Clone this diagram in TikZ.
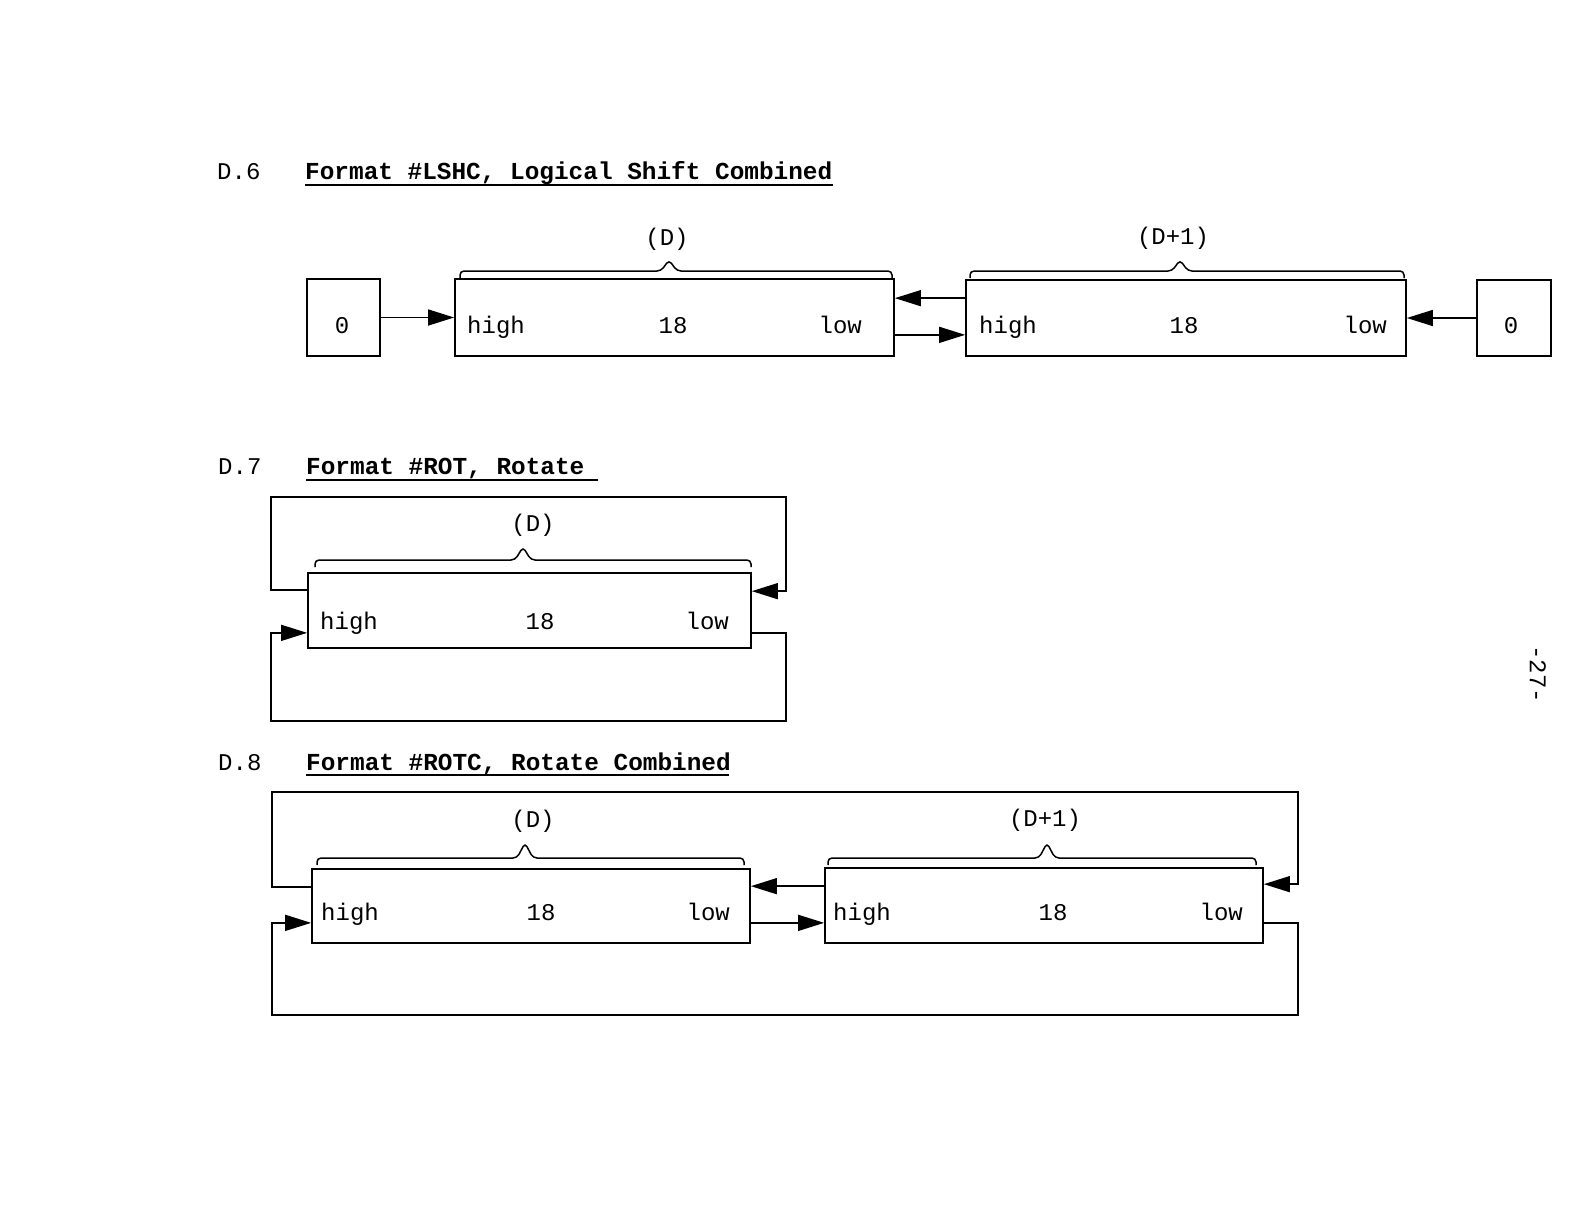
\documentclass[tikz,border=0pt]{standalone}
\usepackage{fontspec}
\setmainfont{Liberation Mono}
\usetikzlibrary{arrows.meta,calc}
\newcommand\regbrace[5]{%
  \draw[brc] (#1,#4+7) -- (#1,#4) -- (#3-8,#4) -- (#3,#5) -- (#3+8,#4) -- (#2,#4) -- (#2,#4+7);}
\begin{document}
\begin{tikzpicture}[x=1pt,y=-1pt,
  regbox/.style={draw, line width=1.7pt, inner sep=0pt},
  conn/.style={line width=1.4pt},
  arr/.style={conn, -{Triangle[length=26pt,width=16pt]}},
  brc/.style={line width=1.5pt, rounded corners=4pt},
  txt/.style={inner sep=0pt, font=\fontsize{24}{28}\selectfont},
  ttl/.style={inner sep=0pt, font=\fontsize{24.4}{29}\selectfont\bfseries},
  uline/.style={line width=1.5pt}]
\useasboundingbox (0,0) rectangle (1584,1224);

% ---------------- D.6 ----------------
\node[txt, anchor=base west] (n6) at (217,179) {D.6};
\node[ttl, anchor=base west] (t6) at (305,179) {Format \#LSHC, Logical Shift Combined};
\draw[uline] (305,185) -- (833,185);

\node[regbox, minimum width=73pt, minimum height=77pt] (z6l) at (343.5,317.5) {};
\node[regbox, minimum width=439pt, minimum height=77pt] (d6a) at (674.5,317.5) {};
\node[regbox, minimum width=440pt, minimum height=76pt] (d6b) at (1186,318) {};
\node[regbox, minimum width=74pt, minimum height=76pt] (z6r) at (1514,318) {};

\node[txt, anchor=base] (z6lt) at (342,333) {0};
\node[txt, anchor=base] (z6rt) at (1511,333) {0};
\node[txt, anchor=base west] (h6a) at (467,333) {high};
\node[txt, anchor=base] (m6a) at (673,333) {18};
\node[txt, anchor=base east] (l6a) at (862,333) {low};
\node[txt, anchor=base west] (h6b) at (979,333) {high};
\node[txt, anchor=base] (m6b) at (1184,333) {18};
\node[txt, anchor=base east] (l6b) at (1387,333) {low};

\regbrace{460}{892}{669}{271}{260}
\regbrace{970}{1404}{1180}{271}{260}
\node[txt, anchor=base] (b6a) at (667,245) {(D)};
\node[txt, anchor=base] (b6b) at (1173,244) {(D+1)};

\draw[arr] (z6l) -- (d6a);
\draw[arr] ($(d6b.north west)+(0,19)$) -- ($(d6a.north east)+(0,20)$);
\draw[arr] ($(d6a.south east)+(0,-22)$) -- ($(d6b.south west)+(0,-22)$);
\draw[arr] (z6r) -- (d6b);

% ---------------- D.7 ----------------
\node[txt, anchor=base west] (n7) at (218,474) {D.7};
\node[ttl, anchor=base west] (t7) at (306,474) {Format \#ROT, Rotate};
\draw[uline] (306,480) -- (598,480);

\node[regbox, minimum width=443pt, minimum height=75pt] (d7) at (529.5,610.5) {};
\node[txt, anchor=base west] (h7) at (320,629) {high};
\node[txt, anchor=base] (m7) at (540,629) {18};
\node[txt, anchor=base east] (l7) at (729,629) {low};
\regbrace{315}{751}{523}{560}{547}
\node[txt, anchor=base] (b7) at (533,531) {(D)};

\coordinate (c7tl) at (271,497);
\coordinate (c7tr) at (786,497);
\coordinate (c7bl) at (271,721);
\coordinate (c7br) at (786,721);
\draw[arr] ($(d7.north west)+(0,18)$) -| (c7tl) -| (c7tr) |- ($(d7.north east)+(0,19)$);
\draw[arr] ($(d7.south east)+(0,-16)$) -| (c7br) -| (c7bl) |- ($(d7.south west)+(0,-16)$);

% ---------------- D.8 ----------------
\node[txt, anchor=base west] (n8) at (218,770) {D.8};
\node[ttl, anchor=base west] (t8) at (306,770) {Format \#ROTC, Rotate Combined};
\draw[uline] (306,775) -- (729,775);

\node[regbox, minimum width=438pt, minimum height=74pt] (d8a) at (531,906) {};
\node[regbox, minimum width=438pt, minimum height=75pt] (d8b) at (1044,905.5) {};
\node[txt, anchor=base west] (h8a) at (321,920) {high};
\node[txt, anchor=base] (m8a) at (541,920) {18};
\node[txt, anchor=base east] (l8a) at (730,920) {low};
\node[txt, anchor=base west] (h8b) at (833,920) {high};
\node[txt, anchor=base] (m8b) at (1053,920) {18};
\node[txt, anchor=base east] (l8b) at (1243,920) {low};
\regbrace{317}{744}{525}{858}{843}
\regbrace{828}{1256}{1047}{858}{843}
\node[txt, anchor=base] (b8a) at (533,827) {(D)};
\node[txt, anchor=base] (b8b) at (1045,826) {(D+1)};

\coordinate (c8tl) at (272,792);
\coordinate (c8tr) at (1298,792);
\coordinate (c8bl) at (272,1015);
\coordinate (c8br) at (1298,1015);
\draw[arr] ($(d8a.north west)+(0,19)$) -| (c8tl) -| (c8tr) |- ($(d8b.north east)+(0,17)$);
\draw[arr] ($(d8b.north west)+(0,19)$) -- ($(d8a.north east)+(0,18)$);
\draw[arr] ($(d8a.south east)+(0,-21)$) -- ($(d8b.south west)+(0,-21)$);
\draw[arr] ($(d8b.south east)+(0,-21)$) -| (c8br) -| (c8bl) |- ($(d8a.south west)+(0,-21)$);

% page number
\node[txt, rotate=-90] (pg) at (1538,674) {-27-};
\end{tikzpicture}
\end{document}
